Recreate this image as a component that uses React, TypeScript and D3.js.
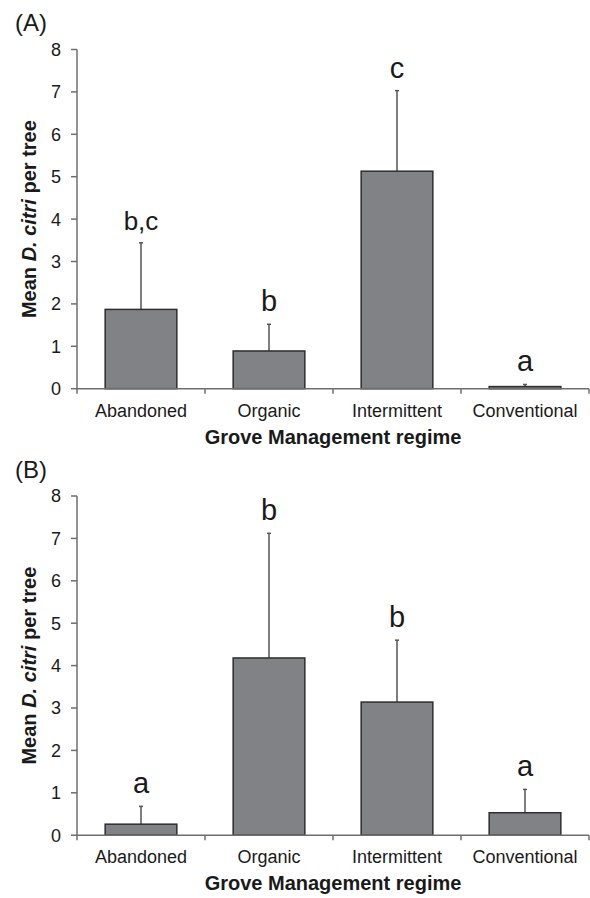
import React from "react";
import * as d3 from "d3";

const categories = ["Abandoned", "Organic", "Intermittent", "Conventional"];
const yTicks = [0, 1, 2, 3, 4, 5, 6, 7, 8];

const meansA = [1.87, 0.89, 5.13, 0.05];
const errTopA = [3.44, 1.52, 7.03, 0.1];
const lettersA = ["b,c", "b", "c", "a"];

const meansB = [0.26, 4.18, 3.14, 0.53];
const errTopB = [0.68, 7.12, 4.6, 1.08];
const lettersB = ["a", "b", "b", "a"];

const FONT = "'Liberation Sans', Arial, Helvetica, sans-serif";

type PanelProps = {
  tag: string;
  top: number;
  means: number[];
  errTop: number[];
  letters: string[];
};

function Panel({ tag, top, means, errTop, letters }: PanelProps) {
  const left = 77;
  const right = 589;
  const plotTop = top + 49.5;
  const plotBottom = top + 388.7;

  const x = d3
    .scaleBand<string>()
    .domain(categories)
    .range([left, right])
    .paddingInner(0.44)
    .paddingOuter(0.22);
  const y = d3.scaleLinear().domain([0, 8]).range([plotBottom, plotTop]);
  const step = x.step();
  const axisColor = "#6e6e6e";

  return (
    <g>
      <text x={15} y={top + 31} fontFamily={FONT} fontSize={24} fill="#1a1a1a">
        {tag}
      </text>
      {/* y label */}
      <text
        transform={`translate(36, ${(plotTop + plotBottom) / 2}) rotate(-90)`}
        textAnchor="middle"
        fontFamily={FONT}
        fontSize={20}
        fontWeight="bold"
        fill="#1a1a1a"
      >
        Mean <tspan fontStyle="italic">D. citri</tspan> per tree
      </text>
      {/* y axis */}
      <line x1={left} x2={left} y1={y(8)} y2={y(0)} stroke={axisColor} strokeWidth={1.5} />
      {yTicks.map((t) => (
        <g key={t}>
          <line x1={left - 6} x2={left} y1={y(t)} y2={y(t)} stroke={axisColor} strokeWidth={1.5} />
          <text
            x={61}
            y={y(t)}
            dy="0.36em"
            textAnchor="end"
            fontFamily={FONT}
            fontSize={18}
            fill="#1a1a1a"
          >
            {t}
          </text>
        </g>
      ))}
      {/* bars */}
      {categories.map((c, i) => {
        const bx = x(c) as number;
        const cx = bx + x.bandwidth() / 2;
        const big = letters[i].length > 1;
        return (
          <g key={c}>
            <line
              x1={cx}
              x2={cx}
              y1={y(means[i])}
              y2={y(errTop[i])}
              stroke="#555"
              strokeWidth={1.5}
            />
            <line
              x1={cx - 2}
              x2={cx + 2}
              y1={y(errTop[i])}
              y2={y(errTop[i])}
              stroke="#555"
              strokeWidth={1.5}
            />
            <rect
              x={bx}
              y={y(means[i])}
              width={x.bandwidth()}
              height={Math.max(y(0) - y(means[i]), 1)}
              fill="#818286"
              stroke="#2e2e2e"
              strokeWidth={1.5}
            />
            <text
              x={cx}
              y={y(errTop[i]) - 13}
              textAnchor="middle"
              fontFamily={FONT}
              fontSize={big ? 26 : 29}
              fill="#1a1a1a"
            >
              {letters[i]}
            </text>
            <text
              x={cx}
              y={plotBottom + 28}
              textAnchor="middle"
              fontFamily={FONT}
              fontSize={18}
              fill="#1a1a1a"
            >
              {c}
            </text>
          </g>
        );
      })}
      {/* x axis */}
      <line x1={left} x2={right} y1={y(0)} y2={y(0)} stroke={axisColor} strokeWidth={1.5} />
      {d3.range(categories.length + 1).map((k) => (
        <line
          key={k}
          x1={left + k * step}
          x2={left + k * step}
          y1={y(0)}
          y2={y(0) + 5}
          stroke={axisColor}
          strokeWidth={1.5}
        />
      ))}
      <text
        x={(left + right) / 2}
        y={plotBottom + 55}
        textAnchor="middle"
        fontFamily={FONT}
        fontSize={20}
        fontWeight="bold"
        fill="#1a1a1a"
      >
        Grove Management regime
      </text>
    </g>
  );
}

export default function App() {
  return (
    <svg
      width={590}
      height={898}
      style={{ position: "absolute", left: 0, top: 0, background: "#fff" }}
    >
      <rect x={0} y={0} width={590} height={898} fill="#fff" />
      <Panel tag="(A)" top={0} means={meansA} errTop={errTopA} letters={lettersA} />
      <Panel tag="(B)" top={446.5} means={meansB} errTop={errTopB} letters={lettersB} />
    </svg>
  );
}
